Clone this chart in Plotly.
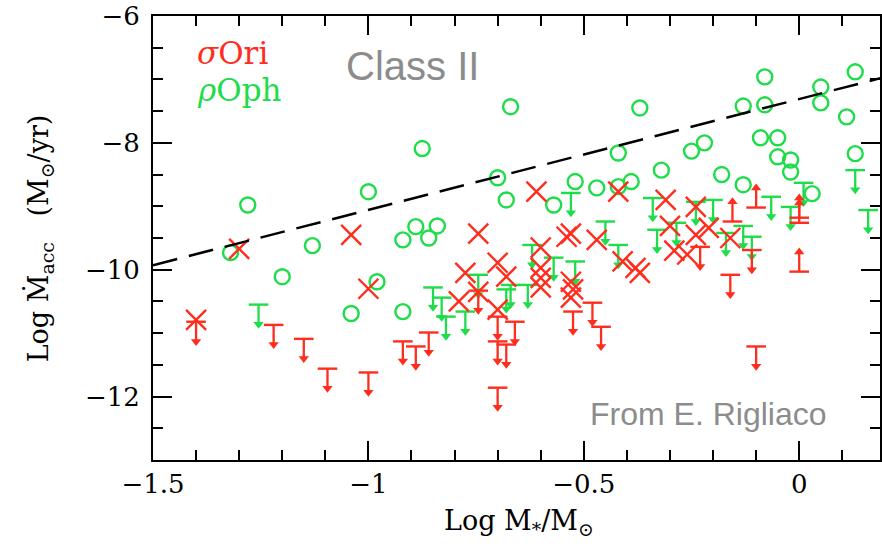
import plotly.graph_objects as go

# ---------------- data ----------------
# rho Oph detections (green open circles): log M*/Msun, log Macc
oph_det_x = [-1.28, -1.32, -1.13, -1.00, -1.20, -0.98, -1.04, -0.875, -0.67, -0.70,
             -0.68, -0.92, -0.89, -0.84, -0.86, -0.57, -0.52, -0.92, -0.47, -0.42,
             -0.39, -0.42, -0.37, -0.32, -0.25, -0.22, -0.18, -0.13, -0.13, -0.08,
             -0.08, -0.09, -0.05, -0.05, -0.02, -0.02, 0.03, 0.05, 0.05, 0.11,
             0.13, 0.13]
oph_det_y = [-8.98, -9.73, -9.62, -8.77, -10.11, -10.19, -10.69, -8.09, -7.43, -8.55,
             -8.90, -9.53, -9.32, -9.31, -9.50, -8.98, -8.61, -10.66, -8.71, -8.69,
             -8.61, -8.16, -7.45, -8.43, -8.13, -8.00, -8.50, -7.42, -8.66, -7.40,
             -6.96, -7.92, -7.92, -8.22, -8.27, -8.46, -8.80, -7.37, -7.12, -7.59,
             -6.88, -8.17]

# rho Oph upper limits (green T with downward arrow)
oph_ul_x = [-1.255, -0.85, -0.83, -0.82, -0.775, -0.745, -0.68, -0.67, -0.63, -0.62,
            -0.57, -0.52, -0.53, -0.45, -0.42, -0.34, -0.33, -0.285, -0.24, -0.20,
            -0.17, -0.13, -0.11, -0.065, -0.02, 0.01, 0.13, 0.16]
oph_ul_y = [-10.55, -10.28, -10.44, -10.74, -10.66, -10.08, -10.31, -10.24, -10.24, -9.61,
            -9.81, -9.87, -8.79, -9.24, -9.61, -8.87, -9.37, -9.26, -8.93, -8.90,
            -9.42, -9.31, -9.48, -8.85, -9.01, -8.63, -8.43, -9.06]

# sigma Ori detections (red crosses)
ori_det_x = [-1.40, -1.30, -1.04, -1.00, -0.745, -0.61, -0.42, -0.31, -0.24, -0.30,
             -0.21, -0.24, -0.16, -0.29, -0.26, -0.47, -0.41, -0.38, -0.37, -0.60,
             -0.54, -0.53, -0.60, -0.60, -0.53, -0.525, -0.68, -0.70, -0.775, -0.79,
             -0.745, -0.70, -0.60, -0.53]
ori_det_y = [-10.79, -9.67, -9.45, -10.30, -9.43, -8.77, -8.77, -8.90, -9.01, -9.31,
             -9.34, -9.45, -9.50, -9.70, -9.76, -9.53, -9.87, -9.97, -10.05, -9.65,
             -9.48, -9.43, -9.97, -10.13, -10.19, -10.31, -10.11, -9.89, -10.05, -10.50,
             -10.35, -10.63, -10.28, -10.44]

# sigma Ori upper limits (red T with downward arrow)
ori_ul_x = [-1.40, -1.22, -1.15, -1.095, -1.00, -0.92, -0.89, -0.86, -0.70, -0.70,
            -0.68, -0.66, -0.70, -0.525, -0.48, -0.46, -0.23, -0.16, -0.11, -0.10,
            -0.745]
ori_ul_y = [-10.82, -10.87, -11.09, -11.56, -11.62, -11.13, -11.21, -10.99, -10.74, -11.13,
            -11.18, -10.82, -11.86, -10.66, -10.52, -10.90, -9.64, -10.08, -9.69, -11.21,
            -10.33]

# sigma Ori lower limits (red bar with upward arrow)
ori_ll_x = [-0.10, -0.155, 0.0, 0.0, 0.0]
ori_ll_y = [-9.02, -9.24, -9.26, -9.18, -10.03]

# dashed reference relation
rel_x = [-1.5, 0.2]
rel_y = [-9.93, -6.96]

RED = "#ff2d1e"
GREEN = "#1edc4a"
ARROW = 0.31  # arrow length in dex


def shafts(xs, ys, sign):
    sx, sy = [], []
    for x, y in zip(xs, ys):
        sx += [x, x, None]
        sy += [y, y + sign * ARROW, None]
    return sx, sy


def limit_traces(xs, ys, color, sign):
    sx, sy = shafts(xs, ys, sign)
    tips = [y + sign * ARROW for y in ys]
    return [
        go.Scatter(x=sx, y=sy, mode="lines", line=dict(color=color, width=2.3),
                   hoverinfo="skip", showlegend=False),
        go.Scatter(x=xs, y=ys, mode="markers",
                   marker=dict(symbol="line-ew-open", size=14, color=color,
                               line=dict(color=color, width=2.4)),
                   showlegend=False),
        go.Scatter(x=xs, y=tips, mode="markers",
                   marker=dict(symbol="triangle-down" if sign < 0 else "triangle-up",
                               size=9, color=color, line=dict(width=0)),
                   showlegend=False),
    ]


fig = go.Figure()

fig.add_trace(go.Scatter(x=oph_det_x, y=oph_det_y, mode="markers",
                         marker=dict(symbol="circle-open", size=15, color=GREEN,
                                     line=dict(color=GREEN, width=2.4)),
                         showlegend=False))
for t in limit_traces(oph_ul_x, oph_ul_y, GREEN, -1):
    fig.add_trace(t)

fig.add_trace(go.Scatter(x=ori_det_x, y=ori_det_y, mode="markers",
                         marker=dict(symbol="x-thin-open", size=20, color=RED,
                                     line=dict(color=RED, width=2.4)),
                         showlegend=False))
for t in limit_traces(ori_ul_x, ori_ul_y, RED, -1):
    fig.add_trace(t)
for t in limit_traces(ori_ll_x, ori_ll_y, RED, +1):
    fig.add_trace(t)

fig.add_trace(go.Scatter(x=rel_x, y=rel_y, mode="lines",
                         line=dict(color="black", width=2.5, dash="25px,12px"),
                         showlegend=False))

serif = "DejaVu Serif"
tickfont = dict(family=serif, size=26, color="black")

fig.update_xaxes(range=[-1.5, 0.1875], dtick=0.5, tick0=0,
                 ticks="inside", ticklen=19, tickwidth=2, tickcolor="black",
                 minor=dict(dtick=0.1, tick0=0, ticks="inside", ticklen=10,
                            tickwidth=2, tickcolor="black"),
                 showline=True, linewidth=2, linecolor="black", mirror="ticks",
                 showgrid=False, zeroline=False, tickfont=tickfont)
fig.update_yaxes(range=[-13, -6], dtick=2, tick0=0,
                 ticks="inside", ticklen=19, tickwidth=2, tickcolor="black",
                 minor=dict(dtick=0.5, tick0=0, ticks="inside", ticklen=10,
                            tickwidth=2, tickcolor="black"),
                 showline=True, linewidth=2, linecolor="black", mirror="ticks",
                 showgrid=False, zeroline=False, tickfont=tickfont,
                 ticklabelstandoff=6)

annotations = [
    dict(text="<i>σ</i>Ori", x=0.058, y=0.917, xanchor="left", yanchor="middle",
         font=dict(family=serif, size=31, color=RED)),
    dict(text="<i>ρ</i>Oph", x=0.058, y=0.833, xanchor="left", yanchor="middle",
         font=dict(family=serif, size=31, color=GREEN)),
    dict(text="Class II", x=0.357, y=0.887, xanchor="center", yanchor="middle",
         font=dict(family="Liberation Sans", size=40, color="#8c8c8c")),
    dict(text="From E. Rigliaco", x=0.764, y=0.104, xanchor="center", yanchor="middle",
         font=dict(family="Liberation Sans", size=32, color="#8c8c8c")),
    dict(text="Log M<sub>*</sub>/M<sub>⊙</sub>", x=0.503, y=-0.14,
         xanchor="center", yanchor="middle",
         font=dict(family=serif, size=27, color="black")),
    dict(text="Log Ṁ<sub>acc</sub>   (M<sub>⊙</sub>/yr)", x=-0.155, y=0.5,
         xanchor="center", yanchor="middle", textangle=-90,
         font=dict(family=serif, size=27, color="black")),
]
for a in annotations:
    a.update(xref="paper", yref="paper", showarrow=False)

fig.update_layout(width=882, height=547,
                  margin=dict(l=153, r=0, t=16, b=87),
                  paper_bgcolor="white", plot_bgcolor="white",
                  annotations=annotations, showlegend=False)

fig.write_html("out.html")
